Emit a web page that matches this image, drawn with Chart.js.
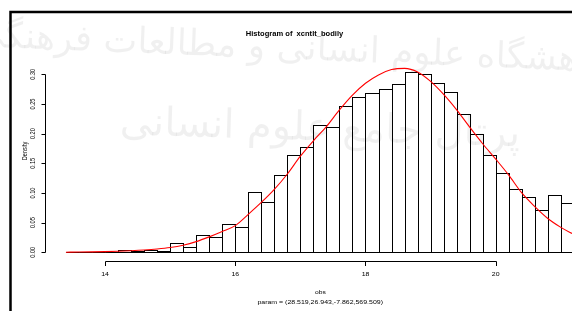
<!DOCTYPE html>
<html>
<head>
<meta charset="utf-8">
<script src="https://cdn.jsdelivr.net/npm/chart.js@4"></script>
<style>
  body { margin: 0; background: #fff; }
  #wrap { width: 572px; height: 311px; }
</style>
</head>
<body>
<div id="wrap"><canvas id="histChart" width="572" height="311"></canvas></div>
<script>
// histogram bins (left edges, width 0.2) and densities
const binStarts = [13.4, 13.6, 13.8, 14.0, 14.2, 14.4, 14.6, 14.8, 15.0, 15.2,
  15.4, 15.6, 15.8, 16.0, 16.2, 16.4, 16.6, 16.8, 17.0, 17.2,
  17.4, 17.6, 17.8, 18.0, 18.2, 18.4, 18.6, 18.8, 19.0, 19.2,
  19.4, 19.6, 19.8, 20.0, 20.2, 20.4, 20.6, 20.8, 21.0];
const binWidth = 0.2;
const density = [0, 0, 0.001, 0.001, 0.004, 0.002, 0.004, 0.003, 0.015, 0.009,
  0.030, 0.026, 0.047, 0.043, 0.102, 0.084, 0.130, 0.164, 0.178, 0.214,
  0.212, 0.247, 0.261, 0.269, 0.276, 0.284, 0.304, 0.301, 0.286, 0.270,
  0.233, 0.199, 0.164, 0.134, 0.107, 0.093, 0.071, 0.097, 0.083];

// fitted density curve (red)
const curveX = [13.4, 13.6, 13.8, 14.0, 14.2, 14.4, 14.6, 14.8, 15.0, 15.2,
  15.4, 15.6, 15.8, 16.0, 16.2, 16.4, 16.6, 16.8, 17.0, 17.2,
  17.4, 17.6, 17.8, 18.0, 18.2, 18.4, 18.6, 18.8, 19.0, 19.2,
  19.4, 19.6, 19.8, 20.0, 20.2, 20.4, 20.6, 20.8, 21.0, 21.2];
const curveY = [0.0002, 0.0004, 0.0007, 0.0011, 0.0017, 0.0026, 0.0038, 0.0055, 0.008, 0.012,
  0.018, 0.026, 0.035, 0.045, 0.064, 0.084, 0.106, 0.132, 0.162, 0.188,
  0.212, 0.240, 0.265, 0.285, 0.299, 0.308, 0.310, 0.304, 0.288, 0.266,
  0.240, 0.211, 0.183, 0.157, 0.130, 0.100, 0.077, 0.057, 0.042, 0.030];

const xTicks = [14, 16, 18, 20];
const yTicks = [0, 0.05, 0.10, 0.15, 0.20, 0.25, 0.30];

const title = "Histogram of  xcntlt_bodily";
const xLabel = "obs";
const subLabel = "param = (28.519,26.943,-7.862,569.509)";
const yLabel = "Density";

const FONT = '"Liberation Sans", Arial, Helvetica, sans-serif';

// text is a bit wider than tall in the source picture
function drawText(ctx, s, x, y, size, bold, rotate) {
  ctx.save();
  ctx.translate(x, y);
  ctx.scale(1.2, 1);
  if (rotate) ctx.rotate(-Math.PI / 2);
  ctx.font = (bold ? "bold " : "") + size + "px " + FONT;
  ctx.textAlign = "center";
  ctx.textBaseline = "middle";
  ctx.fillStyle = "#000";
  ctx.fillText(s, 0, 0);
  ctx.restore();
}

const backdrop = {
  id: "backdrop",
  beforeDraw(chart) {
    const ctx = chart.ctx;
    ctx.save();
    ctx.fillStyle = "#fff";
    ctx.fillRect(0, 0, chart.width, chart.height);
    // faint watermark
    ctx.fillStyle = "rgba(0,0,0,0.06)";
    ctx.direction = "rtl";
    ctx.textAlign = "center";
    ctx.textBaseline = "middle";
    ctx.font = "36px 'DejaVu Sans'";
    ctx.translate(300, 50);
    ctx.rotate(0.04);
    ctx.fillText("پژوهشگاه علوم انسانی و مطالعات فرهنگی", 0, 0);
    ctx.restore();
    ctx.save();
    ctx.fillStyle = "rgba(0,0,0,0.06)";
    ctx.direction = "rtl";
    ctx.textAlign = "center";
    ctx.textBaseline = "middle";
    ctx.font = "40px 'DejaVu Sans'";
    ctx.translate(320, 130);
    ctx.rotate(0.03);
    ctx.fillText("پرتال جامع علوم انسانی", 0, 0);
    ctx.restore();
  }
};

// bar outlines drawn as thin rectangles, under the red curve
const barOutlines = {
  id: "barOutlines",
  beforeDatasetsDraw(chart) {
    const ctx = chart.ctx;
    const meta = chart.getDatasetMeta(0);
    const area = chart.chartArea;
    ctx.save();
    ctx.beginPath();
    ctx.rect(area.left, area.top, area.right - area.left, area.bottom - area.top);
    ctx.clip();
    ctx.strokeStyle = "#000";
    ctx.lineWidth = 1;
    meta.data.forEach(bar => {
      const p = bar.getProps(["x", "y", "base", "width"], true);
      const l = Math.round(p.x - p.width / 2) + 0.5;
      const r = Math.round(p.x + p.width / 2) + 0.5;
      const t = Math.round(p.y) + 0.5;
      const b = Math.round(p.base) + 0.5;
      ctx.strokeRect(l, t, r - l, b - t);
    });
    ctx.restore();
  }
};

const rAxes = {
  id: "rAxes",
  afterDraw(chart) {
    const ctx = chart.ctx;
    const xs = chart.scales.x, ys = chart.scales.y;
    const area = chart.chartArea;
    ctx.save();
    ctx.strokeStyle = "#000";
    ctx.lineWidth = 1;

    // y axis
    const ax = Math.round(area.left) + 0.5;
    ctx.beginPath();
    ctx.moveTo(ax, Math.round(ys.getPixelForValue(yTicks[0])) + 0.5);
    ctx.lineTo(ax, Math.round(ys.getPixelForValue(yTicks[yTicks.length - 1])) + 0.5);
    yTicks.forEach(v => {
      const py = Math.round(ys.getPixelForValue(v)) + 0.5;
      ctx.moveTo(ax, py);
      ctx.lineTo(ax - 4, py);
    });
    ctx.stroke();
    yTicks.forEach(v => {
      drawText(ctx, v.toFixed(2), 33, ys.getPixelForValue(v), 5.6, false, true);
    });
    drawText(ctx, yLabel, 25, 151, 5.6, false, true);

    // x axis
    const ay = Math.round(area.bottom) + 0.5;
    ctx.beginPath();
    ctx.moveTo(Math.round(xs.getPixelForValue(xTicks[0])) + 0.5, ay);
    ctx.lineTo(Math.round(xs.getPixelForValue(xTicks[xTicks.length - 1])) + 0.5, ay);
    xTicks.forEach(v => {
      const px = Math.round(xs.getPixelForValue(v)) + 0.5;
      ctx.moveTo(px, ay);
      ctx.lineTo(px, ay + 4.5);
    });
    ctx.stroke();
    xTicks.forEach(v => {
      drawText(ctx, String(v), xs.getPixelForValue(v), 274.5, 5.8, false, false);
    });
    drawText(ctx, xLabel, 320.5, 292.7, 5.6, false, false);
    drawText(ctx, subLabel, 320.2, 302.3, 5.8, false, false);

    // title
    drawText(ctx, title, 294.5, 34.5, 6.3, true, false);

    // outer frame
    ctx.lineWidth = 2.5;
    ctx.beginPath();
    ctx.moveTo(10.5, chart.height);
    ctx.lineTo(10.5, 12);
    ctx.lineTo(chart.width, 12);
    ctx.stroke();
    ctx.restore();
  }
};

const ctx = document.getElementById("histChart").getContext("2d");
const chart = new Chart(ctx, {
  type: "bar",
  data: {
    datasets: [
      {
        type: "bar",
        label: "hist",
        data: binStarts.map((x0, i) => ({ x: x0 + binWidth / 2, y: density[i] })),
        backgroundColor: "rgba(0,0,0,0)",
        borderWidth: 0,
        barPercentage: 1,
        categoryPercentage: 1,
        order: 2
      },
      {
        type: "line",
        label: "fit",
        data: curveX.map((x, i) => ({ x: x, y: curveY[i] })),
        borderColor: "#ff0000",
        borderWidth: 1.1,
        pointRadius: 0,
        fill: false,
        cubicInterpolationMode: "monotone",
        order: 1
      }
    ]
  },
  options: {
    responsive: false,
    devicePixelRatio: 1,
    animation: false,
    layout: { padding: { left: 45, right: 0, top: 50, bottom: 50.3 } },
    plugins: { legend: { display: false }, tooltip: { enabled: false } },
    scales: {
      x: { type: "linear", offset: false, min: 13.0786, max: 21.171, display: false },
      y: { type: "linear", min: -0.01416, max: 0.341, display: false }
    }
  },
  plugins: [backdrop, barOutlines, rAxes]
});
</script>
</body>
</html>
